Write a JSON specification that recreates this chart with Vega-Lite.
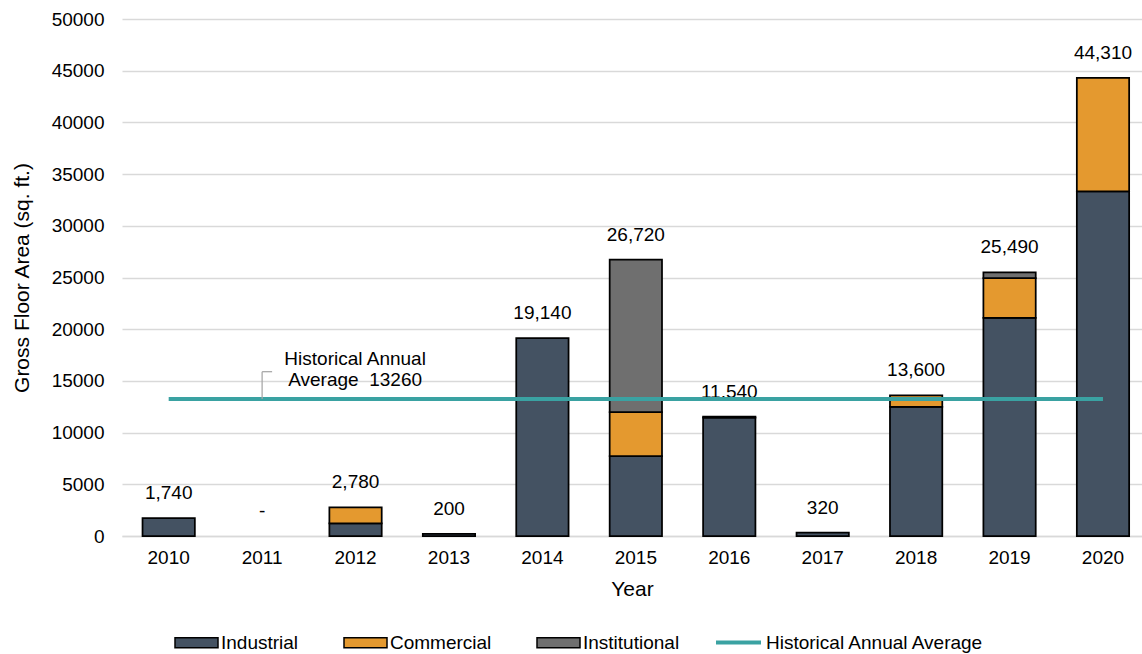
{
  "$schema": "https://vega.github.io/schema/vega-lite/v6.json",
  "width": 1020,
  "height": 517,
  "autosize": {"type": "none"},
  "padding": {"left": 122, "top": 19, "right": 0, "bottom": 118},
  "background": "white",
  "config": {
    "font": "Liberation Sans",
    "view": {"stroke": null},
    "axis": {"labelFont": "Liberation Sans", "titleFont": "Liberation Sans", "labelFontSize": 19, "titleFontSize": 21, "labelColor": "#000", "titleColor": "#000", "titleFontWeight": "normal"},
    "legend": {"labelFont": "Liberation Sans", "labelFontSize": 19, "labelColor": "#000", "labelLimit": 0}
  },
  "datasets": {
    "bars": [
      {"year": "2010", "type": "Industrial", "area": 1740},
      {"year": "2012", "type": "Industrial", "area": 1230},
      {"year": "2012", "type": "Commercial", "area": 1550},
      {"year": "2013", "type": "Industrial", "area": 200},
      {"year": "2014", "type": "Industrial", "area": 19140},
      {"year": "2015", "type": "Industrial", "area": 7720},
      {"year": "2015", "type": "Commercial", "area": 4270},
      {"year": "2015", "type": "Institutional", "area": 14730},
      {"year": "2016", "type": "Industrial", "area": 11440},
      {"year": "2016", "type": "Commercial", "area": 100},
      {"year": "2017", "type": "Industrial", "area": 320},
      {"year": "2018", "type": "Industrial", "area": 12500},
      {"year": "2018", "type": "Commercial", "area": 1100},
      {"year": "2019", "type": "Industrial", "area": 21100},
      {"year": "2019", "type": "Commercial", "area": 3830},
      {"year": "2019", "type": "Institutional", "area": 560},
      {"year": "2020", "type": "Industrial", "area": 33330},
      {"year": "2020", "type": "Commercial", "area": 10980}
    ],
    "totals": [
      {"year": "2010", "total": 1740, "label": "1,740"},
      {"year": "2011", "total": 0, "label": "-"},
      {"year": "2012", "total": 2780, "label": "2,780"},
      {"year": "2013", "total": 200, "label": "200"},
      {"year": "2014", "total": 19140, "label": "19,140"},
      {"year": "2015", "total": 26720, "label": "26,720"},
      {"year": "2016", "total": 11540, "label": "11,540"},
      {"year": "2017", "total": 320, "label": "320"},
      {"year": "2018", "total": 13600, "label": "13,600"},
      {"year": "2019", "total": 25490, "label": "25,490"},
      {"year": "2020", "total": 44310, "label": "44,310"}
    ],
    "average": [
      {"from": "2010", "to": "2020", "avg": 13260, "series": "Historical Annual Average"}
    ],
    "note": [
      {"year": "2011", "y": 17120, "text": "Historical Annual"},
      {"year": "2011", "y": 15090, "text": "Average \u00a013260"}
    ],
    "leader": [
      {"year": "2011", "low": 13260, "high": 15890}
    ]
  },
  "encoding": {
    "x": {
      "field": "year", "type": "nominal",
      "scale": {"domain": ["2010","2011","2012","2013","2014","2015","2016","2017","2018","2019","2020"], "paddingInner": 0.44, "paddingOuter": 0.1786, "align": 0.615},
      "axis": {"title": "Year", "labelAngle": 0, "ticks": false, "domainColor": "#d9d9d9", "domainWidth": 1.5, "labelPadding": 12, "titlePadding": 11, "titleFontSize": 21, "labelFontSize": 19}
    }
  },
  "layer": [
    {
      "data": {"name": "bars"},
      "transform": [{"calculate": "indexof(['Industrial','Commercial','Institutional'], datum.type)", "as": "k"}],
      "mark": {"type": "bar", "stroke": "#000", "strokeWidth": 1.75},
      "encoding": {
        "y": {
          "field": "area", "type": "quantitative", "stack": "zero",
          "scale": {"domain": [0, 50000]},
          "axis": {"title": "Gross Floor Area (sq. ft.)", "values": [0,5000,10000,15000,20000,25000,30000,35000,40000,45000,50000], "labelOverlap": false, "format": "d", "ticks": false, "domain": false, "gridColor": "#d9d9d9", "gridWidth": 1.5, "labelPadding": 18, "titlePadding": 19, "titleFontSize": 21, "labelFontSize": 19}
        },
        "fill": {
          "field": "type", "type": "nominal",
          "scale": {"domain": ["Industrial", "Commercial", "Institutional"], "range": ["#445262", "#e4992f", "#6f6f6f"]},
          "legend": {"title": null, "orient": "none", "legendX": 52, "legendY": 601, "direction": "horizontal", "columns": 3, "symbolType": "M-1,-0.2326H1V0.2326H-1Z", "symbolSize": 1849, "symbolStrokeColor": "#000", "symbolStrokeWidth": 1.5, "symbolOpacity": 1, "columnPadding": 42, "labelOffset": 2, "labelFontSize": 19}
        },
        "order": {"field": "k", "type": "quantitative", "sort": "ascending"}
      }
    },
    {
      "data": {"name": "totals"},
      "mark": {"type": "text", "fontSize": 19, "color": "#000", "baseline": "middle", "dy": -25},
      "encoding": {
        "y": {"field": "total", "type": "quantitative"},
        "text": {"field": "label"}
      }
    },
    {
      "data": {"name": "average"},
      "mark": {"type": "rule", "strokeWidth": 4},
      "encoding": {
        "x": {"field": "from", "type": "nominal"},
        "x2": {"field": "to"},
        "y": {"field": "avg", "type": "quantitative"},
        "stroke": {
          "field": "series", "type": "nominal",
          "scale": {"range": ["#3aa2a2"]},
          "legend": {"title": null, "orient": "none", "legendX": 592, "legendY": 599, "symbolType": "stroke", "symbolSize": 2025, "symbolStrokeWidth": 4, "labelOffset": 3, "labelFontSize": 19, "labelLimit": 0}
        }
      }
    },
    {
      "data": {"name": "leader"},
      "mark": {"type": "rule", "stroke": "#a6a6a6", "strokeWidth": 1.25},
      "encoding": {
        "y": {"field": "low", "type": "quantitative"},
        "y2": {"field": "high"}
      }
    },
    {
      "data": {"name": "leader"},
      "mark": {"type": "rule", "stroke": "#a6a6a6", "strokeWidth": 1.25, "x2Offset": 10},
      "encoding": {
        "x2": {"field": "year"},
        "y": {"field": "high", "type": "quantitative"}
      }
    },
    {
      "data": {"name": "note"},
      "mark": {"type": "text", "fontSize": 19, "color": "#000", "baseline": "middle", "align": "center", "dx": 93},
      "encoding": {
        "y": {"field": "y", "type": "quantitative"},
        "text": {"field": "text"}
      }
    }
  ]
}
